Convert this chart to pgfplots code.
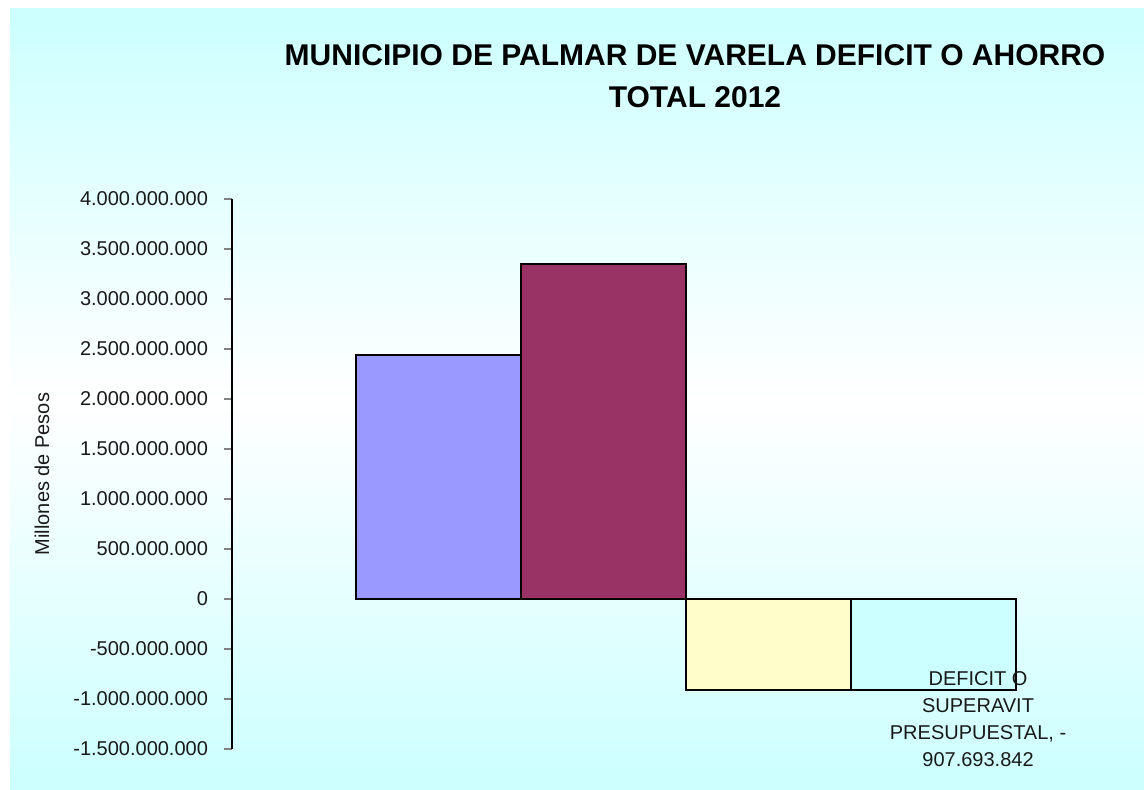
\documentclass[border=0pt]{standalone}
\usepackage{pgfplots}
\pgfplotsset{compat=1.18}
\usepackage{fontspec}
\setmainfont{Liberation Sans}
\definecolor{panelcyan}{HTML}{CCFFFF}
\definecolor{barA}{HTML}{9999FF}
\definecolor{barB}{HTML}{993366}
\definecolor{barC}{HTML}{FFFFCC}
\definecolor{barD}{HTML}{CCFFFF}
\begin{document}
\begin{tikzpicture}[x=1pt,y=1pt]
% canvas 1144x789 px at 0.5pt per px
\useasboundingbox (0,0) rectangle (572,394.5);
\fill[white] (0,0) rectangle (572,394.5);
\shade[top color=panelcyan, bottom color=panelcyan, middle color=white] (5,0) rectangle (572,390);
\node[font=\fontsize{15}{21}\selectfont\bfseries, align=center, text=black] at (347.5,356.5)
  {MUNICIPIO DE PALMAR DE VARELA DEFICIT O AHORRO\\TOTAL 2012};
\node[rotate=90, font=\fontsize{10}{12}\selectfont, text=black!90] at (21,157.5) {Millones de Pesos};
\begin{axis}[
  at={(116pt,20pt)}, anchor=south west,
  scale only axis, width=444pt, height=275pt,
  xmin=-1.25, xmax=4.13,
  ymin=-1500000000, ymax=4000000000,
  clip=false,
  axis y line=left, axis x line=none,
  y axis line style={-, black, line width=0.6pt},
  ytick={-1500000000,-1000000000,-500000000,0,500000000,1000000000,1500000000,2000000000,2500000000,3000000000,3500000000,4000000000},
  scaled y ticks=false,
  tick align=outside,
  major tick length=4pt,
  ytick style={gray, line width=0.8pt},
  yticklabel style={font=\fontsize{10}{12}\selectfont, text=black!90, xshift=-4.5pt},
  /pgf/number format/.cd, fixed, precision=0, 1000 sep={.}, assume math mode=true,
]
\addplot[ybar, bar width=1, bar shift=0, fill=barA, draw=black, line width=1pt] coordinates {(0,2445000000)};
\addplot[ybar, bar width=1, bar shift=0, fill=barB, draw=black, line width=1pt] coordinates {(1,3352700000)};
\addplot[ybar, bar width=1, bar shift=0, fill=barC, draw=black, line width=1pt] coordinates {(2,-907693842)};
\addplot[ybar, bar width=1, bar shift=0, fill=barD, draw=black, line width=1pt] coordinates {(3,-907693842)};
\node[align=center, font=\fontsize{10}{13.5}\selectfont, text=black!90] at (axis cs:3.27,-1200000000)
  {DEFICIT O\\SUPERAVIT\\PRESUPUESTAL, -\\907.693.842};
\end{axis}
\end{tikzpicture}
\end{document}
